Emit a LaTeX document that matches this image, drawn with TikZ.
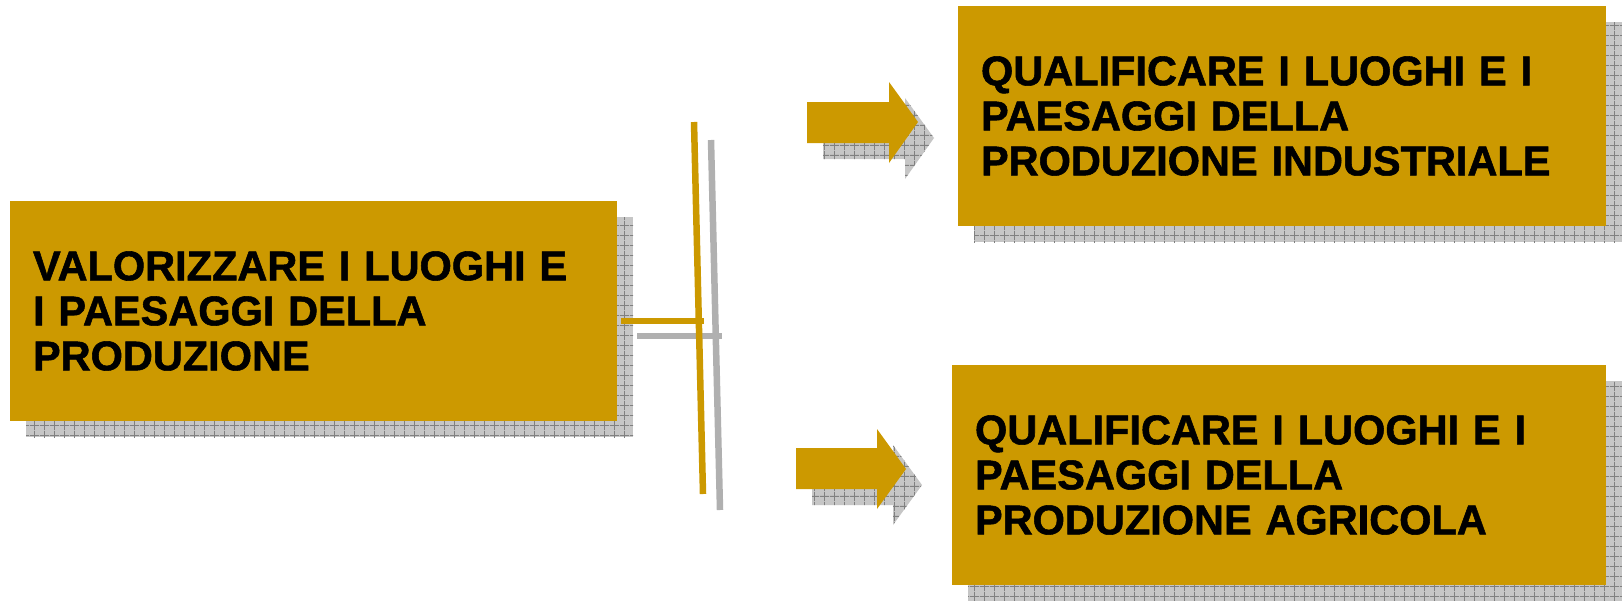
\documentclass[tikz,border=0pt]{standalone}
\usepackage{fontspec}
\setmainfont{Liberation Sans}[BoldFeatures={FakeBold=1.3}]
\usetikzlibrary{shadows,patterns.meta}
\definecolor{gold}{HTML}{CC9900}
\tikzdeclarepattern{
  name=shadowgrid,
  type=uncolored,
  bounding box={(0,0) and (10pt,10pt)},
  tile size={(10pt,10pt)},
  code={\draw[line width=0.9pt] (0,5pt) -- (10pt,5pt) (5pt,0) -- (5pt,10pt);}
}
\tikzset{
  shadowfill/.style={fill=gray!45,postaction={pattern=shadowgrid,pattern color=gray}},
  box/.style={fill=gold,minimum height=220pt,inner xsep=23pt,inner ysep=0pt,text width=#1,align=left,
    font=\fontsize{41.5}{45}\selectfont\bfseries,
    general shadow={shadow xshift=16pt,shadow yshift=-16pt,fill=gray!45},
    general shadow={shadow xshift=16pt,shadow yshift=-16pt,pattern=shadowgrid,pattern color=gray}},
  bar/.style={draw=gold,line width=6.5pt},
  barshadow/.style={draw=gray!62,line width=6.5pt}
}
\begin{document}
\begin{tikzpicture}[x=1pt,y=-1pt]
  \useasboundingbox (0,0) rectangle (1622,600);
  % boxes
  \node[box=561pt] (val) at (313.5,311) {VALORIZZARE I LUOGHI E\\I PAESAGGI DELLA\\PRODUZIONE};
  \node[box=602pt] (ind) at (1282,116) {QUALIFICARE I LUOGHI E I\\PAESAGGI DELLA\\PRODUZIONE INDUSTRIALE};
  \node[box=608pt] (agr) at (1279,475) {QUALIFICARE I LUOGHI E I\\PAESAGGI DELLA\\PRODUZIONE AGRICOLA};
  % bracket
  \coordinate (btop) at (694,122);
  \coordinate (bbot) at (703,494);
  \coordinate (bmid) at (704,321);
  \coordinate (vout) at ([shift={(4,10)}]val.east);
  \draw[barshadow] ([shift={(17,18)}]btop) -- ([shift={(17,16)}]bbot);
  \draw[barshadow] ([shift={(16,15)}]vout) -- ([shift={(18,15)}]bmid);
  \draw[bar] (vout) -- (bmid);
  \draw[bar] (btop) -- (bbot);
  % block arrows
  \fill[shadowfill,shift={(16,16)}] (807,102) -- (889,102) -- (889,82) -- (918,122) -- (889,163) -- (889,143) -- (807,143) -- cycle;
  \fill[gold] (807,102) -- (889,102) -- (889,82) -- (918,122) -- (889,163) -- (889,143) -- (807,143) -- cycle;
  \fill[shadowfill,shift={(16,16)}] (796,448) -- (877,448) -- (877,429) -- (906,469) -- (877,509) -- (877,489) -- (796,489) -- cycle;
  \fill[gold] (796,448) -- (877,448) -- (877,429) -- (906,469) -- (877,509) -- (877,489) -- (796,489) -- cycle;
\end{tikzpicture}
\end{document}
